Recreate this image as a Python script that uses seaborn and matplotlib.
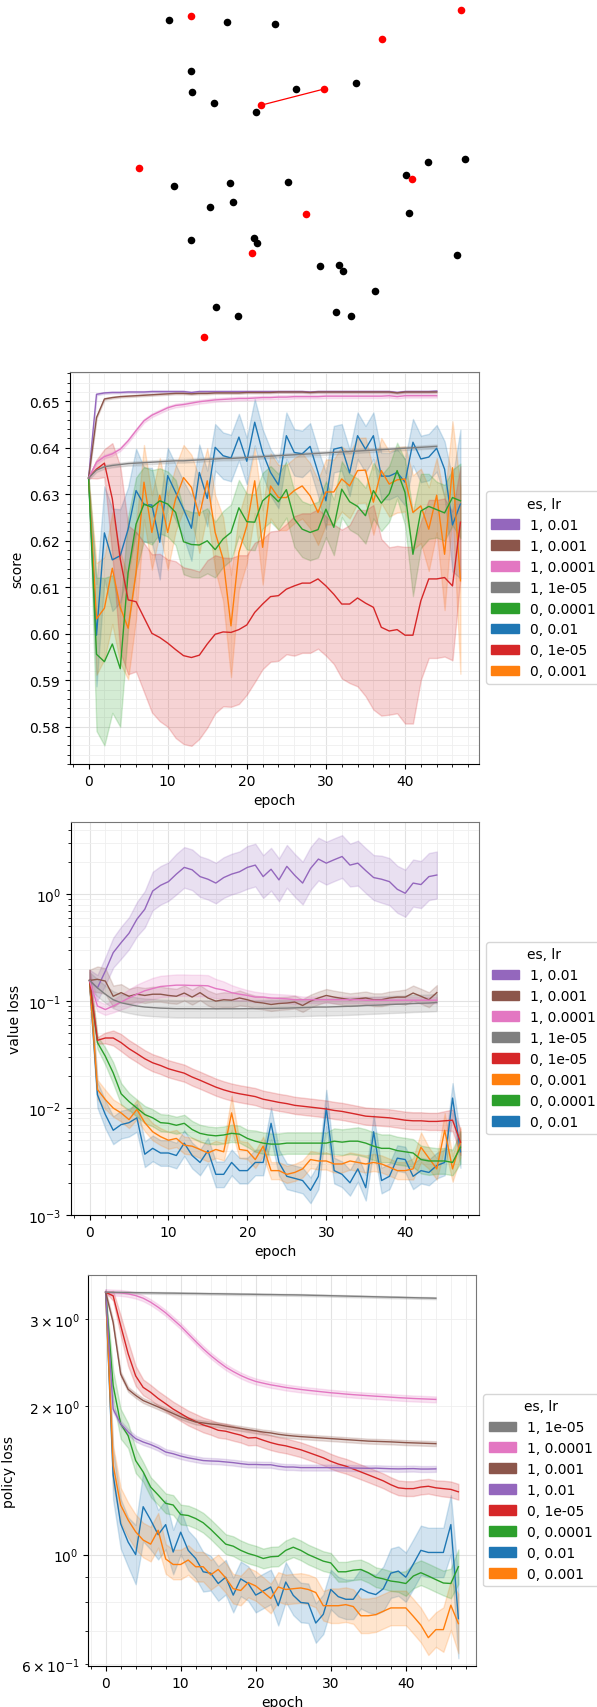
import numpy as np
import pandas as pd
import matplotlib
matplotlib.use('Agg')
import matplotlib.pyplot as plt
from matplotlib.patches import Patch
import seaborn as sns

# ---- top panel: nodes (canvas units, y grows downward) ----
black_x = [169.3, 226.6, 274.7, 190.5, 192.4, 214.0, 255.8, 296.0, 356.4, 427.7,
           464.5, 406.1, 174.2, 229.6, 288.0, 210.3, 233.1, 409.1, 190.9, 253.5,
           257.3, 457.3, 320.3, 339.3, 343.0, 374.9, 216.0, 237.6, 335.5, 351.0]
black_y = [20.7, 23.0, 25.3, 72.0, 93.0, 104.0, 113.3, 90.0, 83.7, 163.3,
           159.7, 176.0, 187.3, 184.0, 183.0, 208.0, 203.0, 213.7, 241.0, 238.7,
           244.0, 255.7, 267.0, 266.0, 271.7, 292.0, 308.0, 316.7, 313.0, 316.7]
red_x = [191.3, 460.8, 381.7, 260.7, 324.1, 138.6, 411.8, 306.3, 251.6, 203.5]
red_y = [17.0, 10.7, 40.3, 106.3, 90.0, 169.0, 180.0, 215.3, 253.7, 338.0]
red_edge = (3, 4)

# ---- series labels (es, lr) ----
labels = ['0, 0.01', '0, 0.001', '0, 0.0001', '0, 1e-05',
          '1, 0.01', '1, 0.001', '1, 0.0001', '1, 1e-05']

# ---- score ----
score_0_01 = [0.6335, 0.5997, 0.6217, 0.6159, 0.6168, 0.6225, 0.6308, 0.6278, 0.6277, 0.6197,
              0.6340, 0.6304, 0.6268, 0.6227, 0.6347, 0.6291, 0.6401, 0.6383, 0.6378, 0.6423,
              0.6371, 0.6455, 0.6390, 0.6347, 0.6320, 0.6426, 0.6390, 0.6387, 0.6403, 0.6347,
              0.6286, 0.6397, 0.6401, 0.6346, 0.6426, 0.6397, 0.6426, 0.6339, 0.6339, 0.6347,
              0.6326, 0.6412, 0.6376, 0.6380, 0.6399, 0.6354, 0.6234, 0.6279]
score_0_001 = [0.6335, 0.6032, 0.6055, 0.6141, 0.6057, 0.6012, 0.6132, 0.6326, 0.6218, 0.6298,
               0.6218, 0.6290, 0.6336, 0.6315, 0.6254, 0.6329, 0.6218, 0.6161, 0.6017, 0.6175,
               0.6232, 0.6329, 0.6186, 0.6318, 0.6293, 0.6293, 0.6308, 0.6318, 0.6297, 0.6261,
               0.6305, 0.6305, 0.6333, 0.6318, 0.6351, 0.6352, 0.6283, 0.6351, 0.6322, 0.6331,
               0.6333, 0.6261, 0.6275, 0.6225, 0.6298, 0.6171, 0.6357, 0.6114]
score_0_0001 = [0.6335, 0.5956, 0.5940, 0.5978, 0.5925, 0.6132, 0.6236, 0.6279, 0.6272, 0.6286,
                0.6279, 0.6261, 0.6198, 0.6192, 0.6191, 0.6200, 0.6181, 0.6204, 0.6218, 0.6271,
                0.6241, 0.6240, 0.6286, 0.6301, 0.6284, 0.6310, 0.6247, 0.6225, 0.6218, 0.6224,
                0.6268, 0.6229, 0.6311, 0.6284, 0.6274, 0.6254, 0.6308, 0.6281, 0.6301, 0.6351,
                0.6304, 0.6171, 0.6264, 0.6274, 0.6267, 0.6260, 0.6293, 0.6286]
score_0_1e5 = [0.6335, 0.6354, 0.6367, 0.6290, 0.6161, 0.6073, 0.6069, 0.6035, 0.6001, 0.5992,
               0.5980, 0.5966, 0.5953, 0.5949, 0.5954, 0.5978, 0.5999, 0.6004, 0.6003, 0.6009,
               0.6019, 0.6046, 0.6064, 0.6080, 0.6082, 0.6096, 0.6103, 0.6109, 0.6109, 0.6118,
               0.6103, 0.6085, 0.6064, 0.6064, 0.6077, 0.6066, 0.6057, 0.6014, 0.6006, 0.6009,
               0.5997, 0.5997, 0.6071, 0.6118, 0.6118, 0.6121, 0.6103, 0.6240]
score_1_01 = [0.6335, 0.6515, 0.6518, 0.6519, 0.6519, 0.6520, 0.6520, 0.6520, 0.6521, 0.6521,
              0.6521, 0.6521, 0.6521, 0.6519, 0.6521, 0.6521, 0.6521, 0.6521, 0.6521, 0.6521,
              0.6521, 0.6521, 0.6521, 0.6521, 0.6521, 0.6521, 0.6521, 0.6521, 0.6520, 0.6521,
              0.6521, 0.6521, 0.6521, 0.6521, 0.6521, 0.6521, 0.6521, 0.6521, 0.6521, 0.6519,
              0.6521, 0.6521, 0.6521, 0.6521, 0.6522]
score_1_001 = [0.6335, 0.6465, 0.6505, 0.6508, 0.6510, 0.6511, 0.6512, 0.6513, 0.6514, 0.6515,
               0.6516, 0.6517, 0.6517, 0.6516, 0.6517, 0.6517, 0.6518, 0.6518, 0.6518, 0.6518,
               0.6519, 0.6519, 0.6519, 0.6519, 0.6520, 0.6520, 0.6520, 0.6520, 0.6519, 0.6520,
               0.6520, 0.6520, 0.6520, 0.6520, 0.6520, 0.6520, 0.6520, 0.6520, 0.6520, 0.6518,
               0.6520, 0.6520, 0.6520, 0.6520, 0.6520]
score_1_0001 = [0.6335, 0.6369, 0.6381, 0.6387, 0.6397, 0.6415, 0.6437, 0.6458, 0.6470, 0.6478,
                0.6486, 0.6491, 0.6493, 0.6496, 0.6499, 0.6501, 0.6503, 0.6504, 0.6505, 0.6506,
                0.6506, 0.6507, 0.6508, 0.6508, 0.6509, 0.6509, 0.6510, 0.6510, 0.6510, 0.6510,
                0.6511, 0.6511, 0.6511, 0.6511, 0.6511, 0.6511, 0.6511, 0.6511, 0.6512, 0.6510,
                0.6512, 0.6512, 0.6512, 0.6512, 0.6512]
score_1_1e5 = [0.6335, 0.6352, 0.6359, 0.6362, 0.6364, 0.6366, 0.6367, 0.6368, 0.6369, 0.6370,
               0.6371, 0.6372, 0.6372, 0.6373, 0.6374, 0.6375, 0.6376, 0.6377, 0.6377, 0.6378,
               0.6379, 0.6380, 0.6381, 0.6382, 0.6383, 0.6384, 0.6385, 0.6386, 0.6387, 0.6388,
               0.6389, 0.6390, 0.6391, 0.6392, 0.6393, 0.6394, 0.6395, 0.6396, 0.6397, 0.6398,
               0.6399, 0.6400, 0.6401, 0.6402, 0.6403]

# half-width of the shaded band (score units)
score_band_0_01 = [0, .011, .010, .011, .010, .009, .009, .008, .008, .008,
                   .006, .006, .006, .007, .006, .006, .005, .005, .005, .005,
                   .005, .005, .005, .005, .005, .005, .005, .005, .005, .005,
                   .006, .005, .005, .005, .005, .005, .005, .005, .005, .005,
                   .005, .005, .005, .005, .005, .006, .010, .016]
score_band_0_001 = [0, .012, .011, .012, .012, .011, .010, .008, .008, .008,
                    .008, .007, .007, .007, .008, .007, .008, .009, .011, .008,
                    .008, .007, .008, .007, .007, .007, .007, .007, .007, .007,
                    .007, .007, .007, .007, .007, .007, .007, .007, .007, .007,
                    .007, .008, .008, .009, .008, .012, .010, .020]
score_band_0_0001 = [0, .0165, .018, .0148, .0125, .012, .010, .008, .008, .007,
                     .007, .007, .007, .007, .007, .007, .006, .006, .006, .006,
                     .006, .006, .006, .006, .006, .006, .006, .006, .006, .006,
                     .006, .006, .006, .006, .006, .006, .006, .006, .006, .006,
                     .007, .009, .008, .007, .006, .006, .006, .008]
score_band_0_1e5 = [0, .002, .003, .012, .020, .016, .015, .016, .017, .018,
                    .018, .019, .019, .019, .018, .018, .017, .016, .016, .016,
                    .015, .015, .014, .014, .014, .014, .015, .015, .015, .015,
                    .015, .015, .016, .017, .019, .020, .022, .019, .018, .018,
                    .019, .019, .017, .017, .017, .017, .016, .012]

# ---- value loss ----
value_0_01 = [0.156, 0.0133, 0.0087, 0.0062, 0.0070, 0.0073, 0.0081, 0.0037, 0.0042, 0.0038,
              0.0038, 0.0036, 0.0047, 0.0036, 0.0031, 0.0040, 0.0024, 0.0024, 0.0031, 0.0026,
              0.0026, 0.0031, 0.0031, 0.0072, 0.0031, 0.0023, 0.0022, 0.0021, 0.0017, 0.0023,
              0.0100, 0.0026, 0.0024, 0.0020, 0.0027, 0.0018, 0.0060, 0.0021, 0.0023, 0.0034,
              0.0033, 0.0023, 0.0026, 0.0025, 0.0029, 0.0031, 0.0124, 0.0039]
value_0_001 = [0.156, 0.0149, 0.0120, 0.0100, 0.0090, 0.0078, 0.0097, 0.0073, 0.0060, 0.0054,
               0.0050, 0.0052, 0.0045, 0.0044, 0.0041, 0.0038, 0.0041, 0.0039, 0.0090, 0.0041,
               0.0040, 0.0033, 0.0044, 0.0026, 0.0026, 0.0024, 0.0025, 0.0027, 0.0033, 0.0032,
               0.0032, 0.0030, 0.0030, 0.0032, 0.0031, 0.0030, 0.0031, 0.0030, 0.0028, 0.0026,
               0.0026, 0.0027, 0.0043, 0.0034, 0.0027, 0.0062, 0.0027, 0.0048]
value_0_0001 = [0.156, 0.0410, 0.0305, 0.0213, 0.0136, 0.0115, 0.0100, 0.0087, 0.0081, 0.0073,
                0.0072, 0.0069, 0.0072, 0.0063, 0.0058, 0.0056, 0.0055, 0.0056, 0.0058, 0.0057,
                0.0052, 0.0049, 0.0047, 0.0046, 0.0046, 0.0047, 0.0047, 0.0047, 0.0047, 0.0047,
                0.0047, 0.0049, 0.0048, 0.0049, 0.0049, 0.0047, 0.0044, 0.0042, 0.0042, 0.0040,
                0.0039, 0.0038, 0.0033, 0.0032, 0.0032, 0.0032, 0.0031, 0.0043]
value_0_1e5 = [0.156, 0.0430, 0.0452, 0.0452, 0.0409, 0.0359, 0.0323, 0.0289, 0.0265, 0.0250,
               0.0233, 0.0222, 0.0212, 0.0195, 0.0182, 0.0169, 0.0157, 0.0148, 0.0141, 0.0136,
               0.0132, 0.0128, 0.0121, 0.0117, 0.0113, 0.0110, 0.0106, 0.0104, 0.0102, 0.0100,
               0.0098, 0.0095, 0.0093, 0.0090, 0.0087, 0.0084, 0.0083, 0.0082, 0.0081, 0.0079,
               0.0077, 0.0076, 0.0076, 0.0075, 0.0075, 0.0076, 0.0077, 0.0048]
value_1_01 = [0.156, 0.133, 0.191, 0.284, 0.352, 0.431, 0.583, 0.723, 1.07, 1.21,
              1.31, 1.54, 1.78, 1.69, 1.46, 1.38, 1.27, 1.43, 1.54, 1.62,
              1.78, 1.87, 1.46, 1.71, 1.36, 1.82, 1.50, 1.27, 1.74, 2.13,
              1.95, 2.10, 2.25, 1.87, 1.95, 1.66, 1.43, 1.38, 1.31, 1.11,
              1.02, 1.27, 1.23, 1.46, 1.51]
value_1_001 = [0.156, 0.160, 0.154, 0.111, 0.120, 0.111, 0.116, 0.113, 0.116, 0.116,
               0.113, 0.111, 0.119, 0.109, 0.120, 0.107, 0.100, 0.103, 0.102, 0.107,
               0.103, 0.098, 0.096, 0.093, 0.095, 0.096, 0.098, 0.091, 0.100, 0.107,
               0.113, 0.109, 0.106, 0.103, 0.105, 0.107, 0.103, 0.103, 0.107, 0.109,
               0.109, 0.119, 0.111, 0.103, 0.120]
value_1_0001 = [0.156, 0.090, 0.0834, 0.090, 0.098, 0.107, 0.116, 0.125, 0.131, 0.137,
                0.139, 0.141, 0.141, 0.140, 0.140, 0.139, 0.131, 0.127, 0.120, 0.116,
                0.113, 0.109, 0.109, 0.107, 0.106, 0.105, 0.103, 0.103, 0.103, 0.103,
                0.103, 0.103, 0.103, 0.103, 0.103, 0.102, 0.102, 0.102, 0.102, 0.102,
                0.102, 0.102, 0.102, 0.102, 0.102]
value_1_1e5 = [0.156, 0.133, 0.116, 0.103, 0.0965, 0.093, 0.090, 0.088, 0.087, 0.086,
               0.0855, 0.085, 0.085, 0.085, 0.0848, 0.0848, 0.0848, 0.0848, 0.0848, 0.0848,
               0.085, 0.085, 0.0852, 0.0855, 0.0858, 0.086, 0.0865, 0.087, 0.0875, 0.088,
               0.088, 0.0885, 0.089, 0.0895, 0.090, 0.091, 0.0915, 0.092, 0.093, 0.0935,
               0.094, 0.095, 0.0955, 0.096, 0.097]

# half-width of the band in decades (log10)
value_band_0_01 = [0.10, 0.12, 0.13, 0.13, 0.13, 0.13, 0.13, 0.12, 0.12, 0.12,
                   0.12, 0.12, 0.12, 0.12, 0.12, 0.12, 0.12, 0.12, 0.12, 0.12,
                   0.12, 0.12, 0.12, 0.15, 0.12, 0.12, 0.12, 0.12, 0.12, 0.12,
                   0.17, 0.12, 0.12, 0.12, 0.12, 0.12, 0.16, 0.12, 0.12, 0.12,
                   0.12, 0.12, 0.12, 0.12, 0.12, 0.12, 0.14, 0.15]
value_band_0_001 = [0.10, 0.09, 0.09, 0.08, 0.08, 0.08, 0.09, 0.08, 0.08, 0.08,
                    0.08, 0.08, 0.08, 0.08, 0.08, 0.08, 0.08, 0.08, 0.16, 0.08,
                    0.08, 0.08, 0.09, 0.08, 0.08, 0.08, 0.08, 0.08, 0.08, 0.08,
                    0.08, 0.08, 0.08, 0.08, 0.08, 0.08, 0.08, 0.08, 0.08, 0.08,
                    0.08, 0.10, 0.14, 0.10, 0.10, 0.16, 0.12, 0.14]
value_band_0_0001 = [0.10, 0.06, 0.08, 0.10, 0.10, 0.08, 0.08, 0.08, 0.08, 0.08,
                     0.08, 0.08, 0.08, 0.08, 0.08, 0.08, 0.08, 0.08, 0.08, 0.08,
                     0.08, 0.10, 0.10, 0.10, 0.10, 0.10, 0.10, 0.10, 0.10, 0.10,
                     0.10, 0.12, 0.12, 0.12, 0.13, 0.13, 0.13, 0.13, 0.13, 0.13,
                     0.13, 0.13, 0.13, 0.13, 0.12, 0.12, 0.12, 0.15]
value_band_0_1e5 = [0.10, 0.03, 0.05, 0.07] + [0.08] * 41 + [0.09, 0.10, 0.12]
value_band_1_01 = [0.10, 0.12, 0.13, 0.14, 0.15, 0.15, 0.16, 0.17, 0.18, 0.18,
                   0.18, 0.19, 0.19, 0.19, 0.19, 0.19, 0.19, 0.19, 0.19, 0.19,
                   0.20, 0.20, 0.20, 0.20, 0.20, 0.20, 0.20, 0.20, 0.20, 0.20,
                   0.20, 0.20, 0.20, 0.20, 0.21, 0.21, 0.21, 0.22, 0.22, 0.22,
                   0.22, 0.22, 0.22, 0.22, 0.22]
value_band_1_001 = [0.10, 0.12, 0.12, 0.10, 0.08] + [0.07] * 15 + [0.06] * 20 + [0.07] * 5
value_band_1_0001 = [0.10, 0.05, 0.05, 0.06, 0.07, 0.08, 0.09, 0.09, 0.10, 0.10,
                     0.10, 0.10, 0.10, 0.10, 0.10, 0.10, 0.09, 0.08, 0.07, 0.06,
                     0.05, 0.05, 0.04, 0.04, 0.04, 0.04, 0.04] + [0.03] * 18
value_band_1_1e5 = 0.08

# ---- policy loss ----
policy_0_01 = [3.397, 1.45, 1.155, 1.06, 1.00, 1.25, 1.175, 1.097, 1.15, 1.012,
               1.11, 1.02, 0.982, 0.923, 0.917, 0.874, 0.90, 0.828, 0.893, 0.874,
               0.828, 0.844, 0.86, 0.788, 0.88, 0.827, 0.80, 0.797, 0.727, 0.757,
               0.85, 0.822, 0.812, 0.812, 0.853, 0.838, 0.83, 0.853, 0.917, 0.926,
               0.90, 0.957, 1.02, 1.01, 1.01, 1.01, 1.15, 0.742]
policy_0_001 = [3.397, 1.516, 1.26, 1.175, 1.112, 1.07, 1.05, 1.12, 0.98, 0.955,
                0.955, 0.975, 0.945, 0.945, 0.91, 0.933, 0.897, 0.853, 0.846, 0.878,
                0.864, 0.84, 0.815, 0.86, 0.85, 0.853, 0.856, 0.85, 0.838, 0.788,
                0.788, 0.788, 0.792, 0.785, 0.752, 0.752, 0.756, 0.768, 0.78, 0.78,
                0.78, 0.75, 0.72, 0.679, 0.705, 0.705, 0.79, 0.725]
policy_0_0001 = [3.397, 2.20, 1.84, 1.74, 1.55, 1.47, 1.37, 1.32, 1.27, 1.26,
                 1.205, 1.20, 1.183, 1.16, 1.125, 1.087, 1.05, 1.04, 1.02, 1.005,
                 0.995, 0.982, 0.99, 0.992, 1.02, 1.035, 1.02, 1.00, 0.985, 0.97,
                 0.962, 0.923, 0.923, 0.93, 0.933, 0.919, 0.90, 0.893, 0.884, 0.88,
                 0.874, 0.905, 0.919, 0.905, 0.89, 0.876, 0.874, 0.945]
policy_0_1e5 = [3.397, 3.34, 2.91, 2.55, 2.30, 2.18, 2.13, 2.07, 2.02, 1.97,
                1.93, 1.89, 1.86, 1.83, 1.81, 1.785, 1.777, 1.76, 1.745, 1.722,
                1.725, 1.704, 1.685, 1.67, 1.66, 1.645, 1.63, 1.61, 1.59, 1.57,
                1.545, 1.525, 1.51, 1.49, 1.47, 1.45, 1.43, 1.41, 1.385, 1.365,
                1.36, 1.36, 1.37, 1.375, 1.365, 1.36, 1.355, 1.34]
policy_1_01 = [3.397, 1.97, 1.84, 1.77, 1.717, 1.69, 1.67, 1.645, 1.613, 1.60,
               1.583, 1.57, 1.56, 1.55, 1.547, 1.545, 1.54, 1.535, 1.528, 1.522,
               1.522, 1.52, 1.52, 1.51, 1.504, 1.504, 1.50, 1.50, 1.50, 1.50,
               1.50, 1.50, 1.498, 1.497, 1.496, 1.495, 1.496, 1.494, 1.492, 1.491,
               1.492, 1.493, 1.49, 1.49, 1.491]
policy_1_001 = [3.397, 2.95, 2.32, 2.16, 2.10, 2.05, 2.02, 1.99, 1.96, 1.93,
                1.90, 1.876, 1.855, 1.847, 1.838, 1.832, 1.82, 1.81, 1.80, 1.79,
                1.78, 1.77, 1.763, 1.752, 1.744, 1.738, 1.733, 1.729, 1.725, 1.721,
                1.717, 1.713, 1.709, 1.705, 1.701, 1.697, 1.695, 1.693, 1.691, 1.688,
                1.685, 1.683, 1.681, 1.679, 1.677]
policy_1_0001 = [3.397, 3.391, 3.386, 3.370, 3.344, 3.303, 3.242, 3.167, 3.085, 2.991,
                 2.900, 2.798, 2.700, 2.609, 2.529, 2.459, 2.396, 2.347, 2.304, 2.269,
                 2.241, 2.223, 2.206, 2.193, 2.179, 2.169, 2.159, 2.150, 2.142, 2.134,
                 2.126, 2.120, 2.113, 2.107, 2.102, 2.097, 2.092, 2.088, 2.083, 2.078,
                 2.074, 2.070, 2.067, 2.064, 2.061]
policy_1_1e5 = [3.397, 3.395, 3.393, 3.392, 3.390, 3.388, 3.387, 3.385, 3.383, 3.382,
                3.380, 3.378, 3.377, 3.375, 3.373, 3.372, 3.370, 3.368, 3.366, 3.365,
                3.363, 3.361, 3.360, 3.358, 3.356, 3.355, 3.353, 3.350, 3.347, 3.345,
                3.342, 3.339, 3.336, 3.333, 3.331, 3.328, 3.325, 3.322, 3.319, 3.317,
                3.314, 3.311, 3.308, 3.306, 3.303]

policy_band_0_01 = [0, 0.05, 0.05, 0.05, 0.06, 0.07, 0.06, 0.05, 0.05, 0.045,
                    0.045, 0.04, 0.04, 0.04, 0.035, 0.035, 0.035, 0.035, 0.035, 0.035,
                    0.035, 0.035, 0.035, 0.04, 0.04, 0.04, 0.04, 0.04, 0.04, 0.04,
                    0.04, 0.04, 0.04, 0.04, 0.04, 0.04, 0.04, 0.045, 0.05, 0.05,
                    0.05, 0.05, 0.05, 0.05, 0.05, 0.05, 0.06, 0.08]
policy_band_0_001 = [0, 0.04, 0.035, 0.035, 0.035, 0.035, 0.035, 0.035] + [0.03] * 22 \
    + [0.035] * 15 + [0.045, 0.05, 0.06]
policy_band_0_0001 = [0, 0.03, 0.03, 0.025, 0.025] + [0.02] * 35 \
    + [0.025, 0.025, 0.025, 0.025, 0.025, 0.025, 0.03, 0.035]
policy_band_0_1e5 = [0, 0.01, 0.02, 0.025, 0.02, 0.016] + [0.015] * 39 + [0.016, 0.016, 0.016]
policy_band_1_01 = 0.006
policy_band_1_001 = 0.005
policy_band_1_0001 = 0.006
policy_band_1_1e5 = 0.002

# legend order used in each panel
score_order = ['1, 0.01', '1, 0.001', '1, 0.0001', '1, 1e-05',
               '0, 0.0001', '0, 0.01', '0, 1e-05', '0, 0.001']
value_order = ['1, 0.01', '1, 0.001', '1, 0.0001', '1, 1e-05',
               '0, 1e-05', '0, 0.001', '0, 0.0001', '0, 0.01']
policy_order = ['1, 1e-05', '1, 0.0001', '1, 0.001', '1, 0.01',
                '0, 1e-05', '0, 0.0001', '0, 0.01', '0, 0.001']

palette = dict(zip(labels, sns.color_palette('tab10', 8)))


def long_table(series, bands, log=False):
    # three rows per epoch (low, mid, high) -> median line + full-range band
    rows = []
    for label in labels:
        mid = np.asarray(series[label], dtype=float)
        hw = np.broadcast_to(np.asarray(bands[label], dtype=float), mid.shape)
        if log:
            lo, hi = mid / 10 ** hw, mid * 10 ** hw
        else:
            lo, hi = mid - hw, mid + hw
        for ep in range(len(mid)):
            for v in (lo[ep], mid[ep], hi[ep]):
                rows.append((ep, label, v))
    return pd.DataFrame(rows, columns=['epoch', 'es, lr', 'value'])


def draw_panel(ax, table, ylabel, order, ylim, log=False):
    if log:
        ax.set_yscale('log')
    sns.lineplot(data=table, x='epoch', y='value', hue='es, lr', hue_order=labels,
                 palette=palette, estimator='median', errorbar=('pi', 100),
                 linewidth=1, legend=False, ax=ax)
    ax.set_xlim(-2.35, 49.35)
    ax.set_ylim(*ylim)
    ax.minorticks_on()
    ax.grid(which='major', color='#e2e2e2', linewidth=0.8)
    ax.grid(which='minor', color='#efefef', linewidth=0.6)
    ax.set_axisbelow(True)
    for side in ('top', 'right'):
        ax.spines[side].set_color('#777777')
    ax.set_xlabel('epoch')
    ax.set_ylabel(ylabel)
    handles = [Patch(facecolor=palette[l], edgecolor=palette[l]) for l in order]
    ax.legend(handles, order, title='es, lr', loc='center left',
              bbox_to_anchor=(1.0, 0.45))


score = dict(zip(labels, [score_0_01, score_0_001, score_0_0001, score_0_1e5,
                          score_1_01, score_1_001, score_1_0001, score_1_1e5]))
score_bands = dict(zip(labels, [score_band_0_01, score_band_0_001, score_band_0_0001,
                                score_band_0_1e5, 0.0002, 0.0002, 0.0004, 0.0004]))
value = dict(zip(labels, [value_0_01, value_0_001, value_0_0001, value_0_1e5,
                          value_1_01, value_1_001, value_1_0001, value_1_1e5]))
value_bands = dict(zip(labels, [value_band_0_01, value_band_0_001, value_band_0_0001,
                                value_band_0_1e5, value_band_1_01, value_band_1_001,
                                value_band_1_0001, value_band_1_1e5]))
policy = dict(zip(labels, [policy_0_01, policy_0_001, policy_0_0001, policy_0_1e5,
                           policy_1_01, policy_1_001, policy_1_0001, policy_1_1e5]))
policy_bands = dict(zip(labels, [policy_band_0_01, policy_band_0_001, policy_band_0_0001,
                                 policy_band_0_1e5, policy_band_1_01, policy_band_1_001,
                                 policy_band_1_0001, policy_band_1_1e5]))

fig = plt.figure(figsize=(5.97, 17.08), dpi=100)

# nodes panel
ax0 = fig.add_axes([0, 0.78923, 1, 0.21077])
ax0.plot([red_x[red_edge[0]], red_x[red_edge[1]]], [red_y[red_edge[0]], red_y[red_edge[1]]],
         color='red', linewidth=0.9)
sns.scatterplot(x=black_x, y=black_y, color='black', s=30, linewidth=0, ax=ax0)
sns.scatterplot(x=red_x, y=red_y, color='red', s=30, linewidth=0, ax=ax0)
ax0.set_xlim(0, 597)
ax0.set_ylim(360, 0)
ax0.axis('off')

ax1 = fig.add_axes([0.11725, 0.55211, 0.68509, 0.22951])
draw_panel(ax1, long_table(score, score_bands), 'score', score_order, (0.572, 0.6563))

ax2 = fig.add_axes([0.11893, 0.28806, 0.68342, 0.23009])
draw_panel(ax2, long_table(value, value_bands, log=True), 'value loss', value_order,
           (1e-3, 4.73), log=True)

ax3 = fig.add_axes([0.14740, 0.02400, 0.64992, 0.22892])
draw_panel(ax3, long_table(policy, policy_bands, log=True), 'policy loss', policy_order,
           (0.595, 3.68), log=True)

fig.savefig('out.png', dpi=100)
